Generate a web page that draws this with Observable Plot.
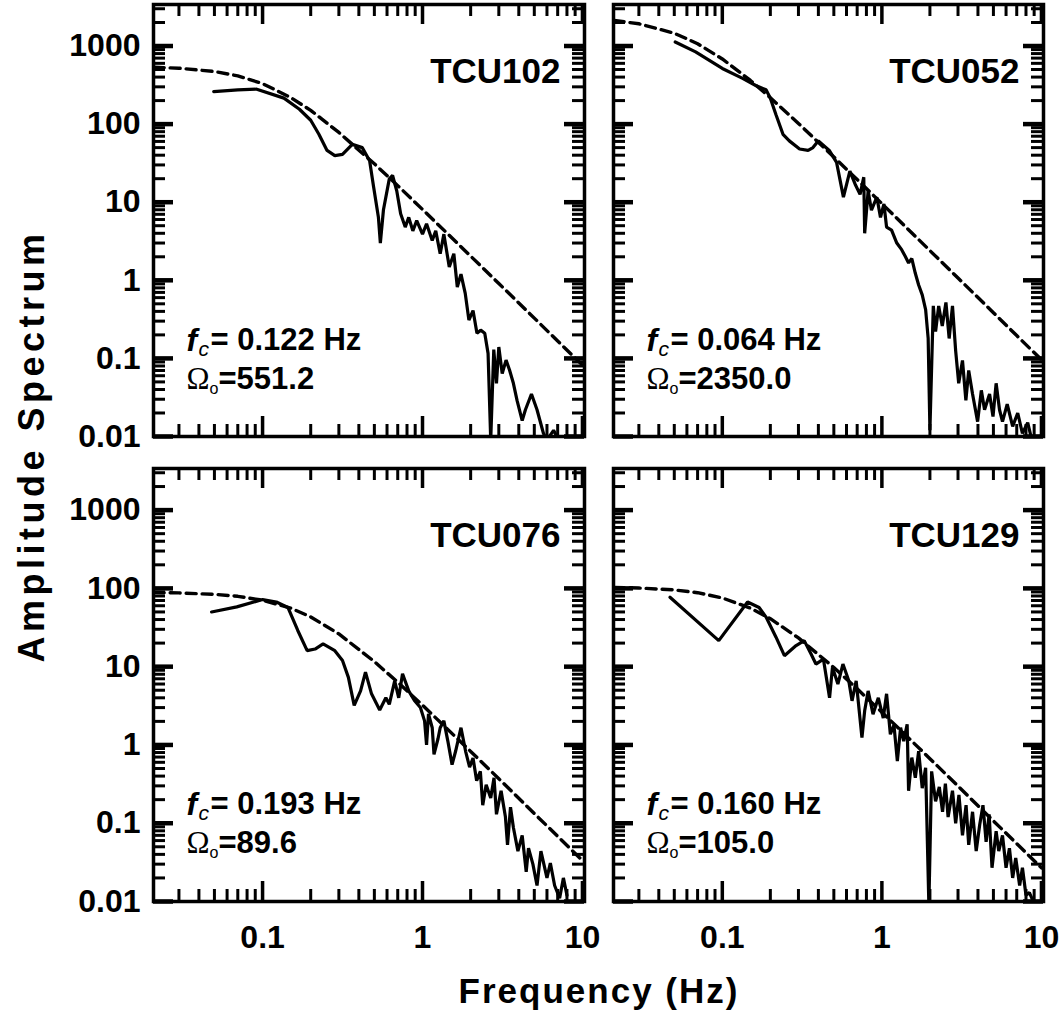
<!DOCTYPE html>
<html><head><meta charset="utf-8">
<script src="https://cdn.jsdelivr.net/npm/d3@7"></script>
<script src="https://cdn.jsdelivr.net/npm/@observablehq/plot@0.6"></script>
<style>
body{margin:0;background:#fff}
#chart{position:relative;width:1063px;height:1016px;background:#fff;font-family:"Liberation Sans",Arial,sans-serif}
#chart .p{position:absolute}
</style>
</head><body><div id="chart"></div>
<script>
// ---- tick values / labels ----
const xTicks = [0.1, 1, 10];
const xTickLabels = ["0.1", "1", "10"];
const yTicks = [0.01, 0.1, 1, 10, 100, 1000];
const yTickLabels = ["0.01", "0.1", "1", "10", "100", "1000"];
const xDomain = [0.0208, 10.3];
const yDomain = [0.01, 3400];

// ---- panel annotations ----
const stations = ["TCU102", "TCU052", "TCU076", "TCU129"];
const cornerFreqs = ["0.122", "0.064", "0.193", "0.160"];
const omegas = ["551.2", "2350.0", "89.6", "105.0"];

// ---- model (dashed) curves ----
const modelFreq = [0.021, 0.03, 0.05, 0.07, 0.1, 0.15, 0.2, 0.3, 0.5, 0.7, 1, 2, 3, 5, 7, 10];
const model102 = [535, 520, 472, 415, 330, 219, 150, 78.2, 31.0, 16.3, 8.08, 2.04, 0.91, 0.328, 0.167, 0.082];
const model052 = [2121, 1927, 1459, 1070, 683, 362, 218, 102, 37.9, 19.5, 9.59, 2.40, 1.07, 0.385, 0.196, 0.096];
const model076 = [88.5, 87.5, 84.0, 79.2, 70.6, 55.9, 43.2, 26.2, 11.6, 6.33, 3.22, 0.827, 0.370, 0.133, 0.068, 0.0334];
const model129 = [103, 101, 95.7, 88.1, 75.5, 55.9, 41.0, 23.3, 9.75, 5.21, 2.62, 0.668, 0.298, 0.107, 0.0548, 0.0269];

// ---- observed spectra (solid) ----
const tcu102Freq = [0.0495, 0.07, 0.092, 0.136, 0.17, 0.20, 0.225, 0.253, 0.283, 0.316, 0.364, 0.42, 0.467, 0.495, 0.53, 0.545, 0.57, 0.62, 0.65, 0.69, 0.73, 0.78, 0.82, 0.87, 0.92, 1.0, 1.06, 1.15, 1.21, 1.29, 1.36, 1.47, 1.57, 1.65, 1.74, 1.85, 1.95, 2.07, 2.19, 2.31, 2.45, 2.57, 2.67, 2.79, 2.9, 3.0, 3.15, 3.33, 3.5, 3.7, 3.9, 4.2, 4.4, 4.8, 5.2, 5.7, 6.0, 6.6, 7.1];
const tcu102Amp = [260, 275, 280, 215, 155, 112, 74, 46, 39.5, 41, 55, 50, 34, 15.5, 6.4, 3.0, 8, 19.9, 22, 14, 7.1, 4.8, 6.4, 4.3, 5.8, 3.9, 5.3, 3.24, 4.3, 2.19, 3.9, 1.48, 2.19, 0.82, 1.2, 0.68, 0.31, 0.41, 0.21, 0.23, 0.21, 0.116, 0.009, 0.13, 0.048, 0.14, 0.064, 0.095, 0.071, 0.048, 0.029, 0.016, 0.022, 0.035, 0.022, 0.011, 0.009, 0.012, 0.009];

const tcu052Freq = [0.0507, 0.068, 0.1, 0.134, 0.162, 0.188, 0.2, 0.217, 0.24, 0.263, 0.305, 0.345, 0.37, 0.40, 0.47, 0.52, 0.574, 0.63, 0.68, 0.73, 0.77, 0.78, 0.82, 0.86, 0.93, 0.98, 1.03, 1.07, 1.15, 1.24, 1.33, 1.40, 1.47, 1.54, 1.62, 1.70, 1.79, 1.88, 1.95, 2.0, 2.1, 2.17, 2.27, 2.39, 2.52, 2.64, 2.77, 2.9, 3.03, 3.2, 3.36, 3.5, 3.7, 3.98, 4.2, 4.4, 4.73, 4.97, 5.2, 5.46, 5.7, 6.1, 6.6, 7.1, 7.6, 8.2, 8.6];
const tcu052Amp = [1125, 840, 516, 385, 312, 275, 215, 132, 74, 61, 48, 46, 50, 61, 45.5, 32.4, 11.6, 25, 17, 12.6, 20.9, 4.0, 14, 7.9, 11.6, 6.4, 9.5, 4.8, 4.4, 3.0, 2.47, 2.03, 1.67, 1.9, 1.23, 0.87, 0.65, 0.42, 0.18, 0.012, 0.47, 0.22, 0.47, 0.26, 0.52, 0.18, 0.47, 0.125, 0.048, 0.094, 0.029, 0.07, 0.035, 0.0155, 0.039, 0.022, 0.035, 0.018, 0.048, 0.022, 0.0155, 0.026, 0.0135, 0.02, 0.011, 0.015, 0.01];

const tcu076Freq = [0.048, 0.069, 0.1, 0.122, 0.144, 0.166, 0.19, 0.213, 0.239, 0.283, 0.316, 0.344, 0.374, 0.41, 0.44, 0.48, 0.54, 0.59, 0.62, 0.67, 0.71, 0.75, 0.82, 0.89, 0.97, 1.03, 1.06, 1.09, 1.15, 1.18, 1.25, 1.29, 1.36, 1.44, 1.53, 1.61, 1.74, 1.86, 1.97, 2.07, 2.18, 2.3, 2.38, 2.5, 2.67, 2.8, 2.9, 3.1, 3.3, 3.4, 3.55, 3.7, 3.95, 4.2, 4.45, 4.6, 4.9, 5.2, 5.5, 6.0, 6.3, 6.7, 7.2, 7.6, 8.0];
const tcu076Amp = [50, 58, 72, 67, 57, 29, 16, 16.8, 19.5, 16, 12, 7.3, 3.2, 4.9, 8.5, 4.5, 2.8, 4.0, 3.3, 6.6, 4.0, 8.1, 4.9, 3.7, 3.0, 2.03, 1.0, 2.5, 1.66, 0.76, 1.2, 1.66, 2.03, 1.12, 0.56, 0.83, 1.66, 0.83, 0.52, 0.68, 0.35, 0.46, 0.17, 0.31, 0.21, 0.38, 0.13, 0.26, 0.12, 0.053, 0.16, 0.088, 0.044, 0.07, 0.024, 0.048, 0.03, 0.016, 0.044, 0.02, 0.031, 0.016, 0.011, 0.02, 0.012];

const tcu129Freq = [0.047, 0.095, 0.144, 0.17, 0.188, 0.217, 0.245, 0.29, 0.326, 0.36, 0.386, 0.43, 0.47, 0.49, 0.53, 0.57, 0.62, 0.65, 0.69, 0.75, 0.78, 0.82, 0.88, 0.95, 1.02, 1.07, 1.13, 1.19, 1.25, 1.31, 1.37, 1.44, 1.47, 1.54, 1.62, 1.7, 1.79, 1.88, 1.97, 2.05, 2.17, 2.29, 2.4, 2.5, 2.6, 2.77, 2.9, 3.04, 3.2, 3.37, 3.5, 3.7, 3.9, 4.1, 4.3, 4.5, 4.7, 4.9, 5.2, 5.4, 5.7, 6.0, 6.3, 6.6, 6.9, 7.3, 7.6, 8.0, 8.4, 8.8];
const tcu129Amp = [77, 21.5, 67, 57, 43, 23.8, 13.8, 18.6, 21.5, 14.5, 10.8, 12.5, 4.0, 9.8, 6.0, 10.8, 6.6, 3.66, 6.6, 1.24, 2.73, 4.9, 2.47, 4.0, 2.2, 4.5, 1.37, 1.8, 0.62, 1.66, 1.12, 1.83, 0.26, 0.69, 0.38, 0.83, 0.28, 0.51, 0.009, 0.46, 0.19, 0.29, 0.14, 0.32, 0.12, 0.26, 0.10, 0.23, 0.07, 0.17, 0.053, 0.14, 0.044, 0.095, 0.17, 0.058, 0.13, 0.027, 0.079, 0.044, 0.07, 0.027, 0.048, 0.02, 0.036, 0.016, 0.027, 0.012, 0.013, 0.0105];

// ---- minor tick positions (2..9 within each decade) ----
function minorTicks(domain) {
  const out = [];
  for (let e = -3; e <= 4; e++) for (let m = 2; m <= 9; m++) {
    const v = m * Math.pow(10, e);
    if (v >= domain[0] && v <= domain[1]) out.push(v);
  }
  return out;
}
const xMinor = minorTicks(xDomain);
const yMinor = minorTicks(yDomain);
const xMajor = xTicks;
const yMajor = yTicks;

const FONT = "Liberation Sans, Arial, sans-serif";

function panel(o) {
  const W = o.w - o.ml - o.mr, H = o.h - o.mt - o.mb;
  const minorLen = 12, majorLen = 20;
  const marks = [
    // ticks on all four sides, pointing inward
    Plot.tickX(xMinor, {insetBottom: H - minorLen, strokeWidth: 3}),
    Plot.tickX(xMajor, {insetBottom: H - majorLen, strokeWidth: 3.5}),
    Plot.tickX(xMinor, {insetTop: H - minorLen, strokeWidth: 3}),
    Plot.tickX(xMajor, {insetTop: H - majorLen, strokeWidth: 3.5}),
    Plot.tickY(yMinor, {insetRight: W - minorLen, strokeWidth: 3}),
    Plot.tickY(yMajor, {insetRight: W - majorLen, strokeWidth: 4.5}),
    Plot.tickY(yMinor, {insetLeft: W - minorLen, strokeWidth: 3}),
    Plot.tickY(yMajor, {insetLeft: W - majorLen, strokeWidth: 4.5}),
    Plot.frame({stroke: "black", strokeWidth: 3.5}),
    Plot.line(modelFreq, {x: d => d, y: (d, i) => o.model[i], stroke: "black", strokeWidth: 3.4, strokeDasharray: "10,6", clip: true}),
    Plot.line(o.freq, {x: d => d, y: (d, i) => o.amp[i], stroke: "black", strokeWidth: 3.2, strokeLinejoin: "miter", clip: true}),
    Plot.text([o.station], {frameAnchor: "top-right", dx: -24, dy: 67, text: d => d, textAnchor: "end", lineAnchor: "middle", fontSize: 35, fontWeight: "bold", fontFamily: FONT}),
    Plot.text(["f"], {frameAnchor: "top-left", dx: 33, dy: 336, text: d => d, textAnchor: "start", lineAnchor: "middle", fontSize: 32, fontWeight: "bold", fontStyle: "italic", fontFamily: FONT}),
    Plot.text(["c"], {frameAnchor: "top-left", dx: 45, dy: 345, text: d => d, textAnchor: "start", lineAnchor: "middle", fontSize: 21, fontStyle: "italic", fontFamily: FONT}),
    Plot.text([`= ${o.fc} Hz`], {frameAnchor: "top-left", dx: 57, dy: 336, text: d => d, textAnchor: "start", lineAnchor: "middle", fontSize: 31, fontWeight: "bold", fontFamily: FONT}),
    Plot.text(["Ω"], {frameAnchor: "top-left", dx: 33, dy: 375, text: d => d, textAnchor: "start", lineAnchor: "middle", fontSize: 31, fontFamily: "Liberation Serif, serif"}),
    Plot.text(["o"], {frameAnchor: "top-left", dx: 56, dy: 384, text: d => d, textAnchor: "start", lineAnchor: "middle", fontSize: 16, fontFamily: FONT}),
    Plot.text([`=${o.omega}`], {frameAnchor: "top-left", dx: 65, dy: 375, text: d => d, textAnchor: "start", lineAnchor: "middle", fontSize: 31, fontWeight: "bold", fontFamily: FONT})
  ];
  if (o.showY) marks.push(Plot.axisY(yTicks, {anchor: "left", tickSize: 0, tickPadding: 13, label: null, tickFormat: d => yTickLabels[yTicks.indexOf(d)], fontSize: 32, fontWeight: "bold", fontFamily: FONT}));
  if (o.showX) marks.push(Plot.axisX(xTicks, {anchor: "bottom", tickSize: 0, tickPadding: 24, label: null, tickFormat: d => xTickLabels[xTicks.indexOf(d)], fontSize: 32, fontWeight: "bold", fontFamily: FONT}));
  const svg = Plot.plot({
    width: o.w, height: o.h,
    marginLeft: o.ml, marginRight: o.mr, marginTop: o.mt, marginBottom: o.mb,
    x: {type: "log", domain: xDomain, axis: null},
    y: {type: "log", domain: yDomain, axis: null},
    style: {background: "transparent", fontFamily: FONT, overflow: "visible", color: "black"},
    marks
  });
  svg.classList.add("p");
  svg.style.left = o.left + "px";
  svg.style.top = o.top + "px";
  return svg;
}

const chart = document.getElementById("chart");
const panels = [
  {left: 0, top: 0, w: 600, h: 450, ml: 153, mr: 16, mt: 4, mb: 14, showX: false, showY: true, freq: tcu102Freq, amp: tcu102Amp, model: model102},
  {left: 600, top: 0, w: 463, h: 450, ml: 13, mr: 20, mt: 4, mb: 14, showX: false, showY: false, freq: tcu052Freq, amp: tcu052Amp, model: model052},
  {left: 0, top: 450, w: 600, h: 520, ml: 153, mr: 16, mt: 18, mb: 69, showX: true, showY: true, freq: tcu076Freq, amp: tcu076Amp, model: model076},
  {left: 600, top: 450, w: 463, h: 520, ml: 13, mr: 20, mt: 18, mb: 69, showX: true, showY: false, freq: tcu129Freq, amp: tcu129Amp, model: model129}
];
panels.forEach((p, i) => {
  p.station = stations[i]; p.fc = cornerFreqs[i]; p.omega = omegas[i];
  chart.appendChild(panel(p));
});

// axis titles
const ns = "http://www.w3.org/2000/svg";
const t = document.createElementNS(ns, "svg");
t.setAttribute("width", 1063); t.setAttribute("height", 1016);
t.setAttribute("class", "p"); t.style.left = "0px"; t.style.top = "0px"; t.style.pointerEvents = "none";
const yt = document.createElementNS(ns, "text");
yt.setAttribute("transform", "translate(44,446) rotate(-90)");
yt.setAttribute("text-anchor", "middle");
yt.setAttribute("font-family", FONT); yt.setAttribute("font-weight", "bold"); yt.setAttribute("font-size", 36);
yt.setAttribute("letter-spacing", "4.5");
yt.textContent = "Amplitude Spectrum";
const xt = document.createElementNS(ns, "text");
xt.setAttribute("x", 599); xt.setAttribute("y", 1003);
xt.setAttribute("text-anchor", "middle");
xt.setAttribute("font-family", FONT); xt.setAttribute("font-weight", "bold"); xt.setAttribute("font-size", 35);
xt.setAttribute("letter-spacing", "2");
xt.textContent = "Frequency (Hz)";
t.appendChild(yt); t.appendChild(xt);
chart.appendChild(t);
</script>
</body></html>
